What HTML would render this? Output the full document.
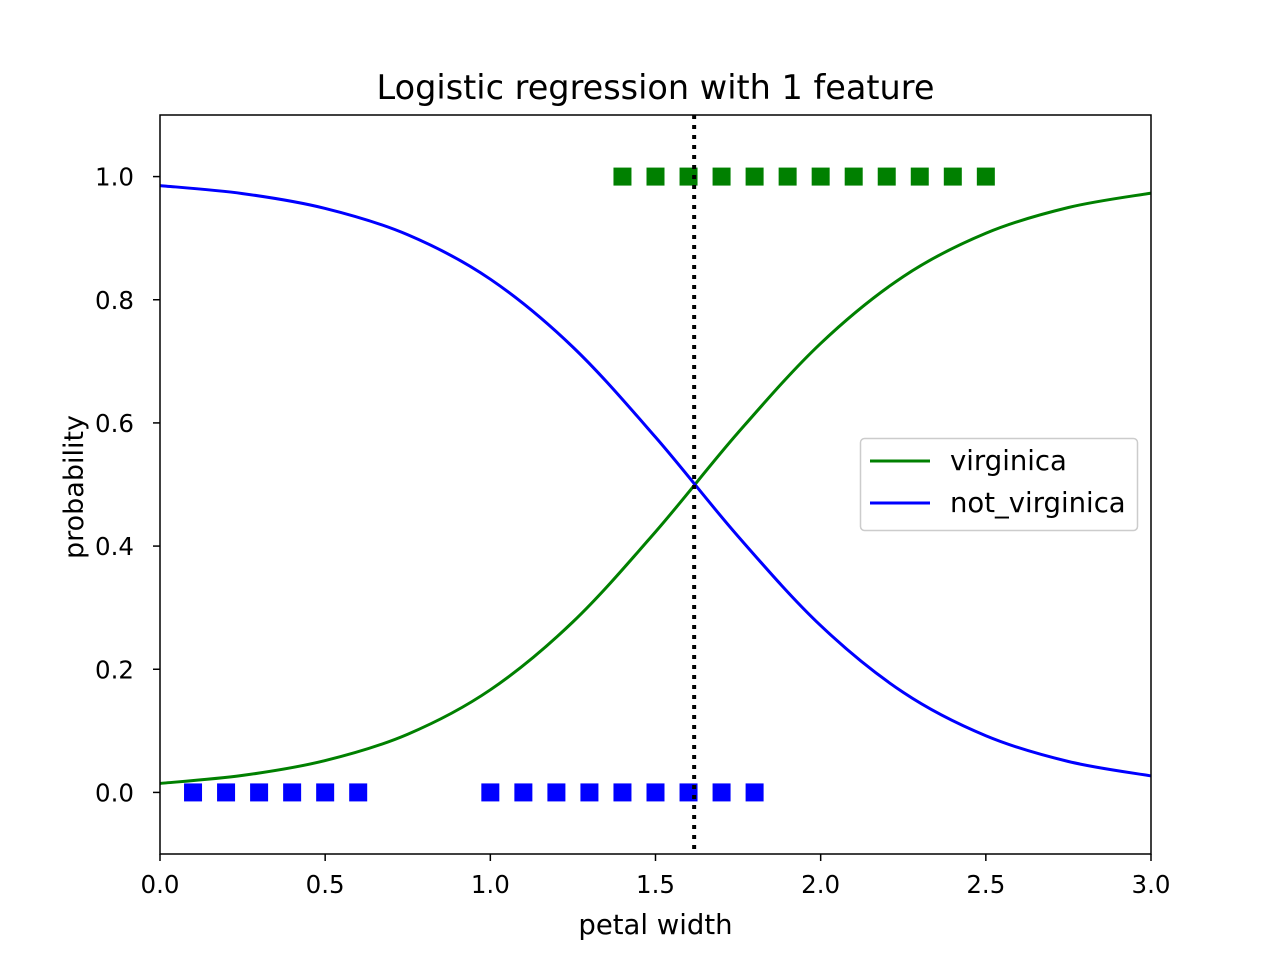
<!DOCTYPE html>
<html><head><meta charset="utf-8"><style>
body{margin:0;background:#fff;}
svg text{font-family:"DejaVu Sans","Liberation Sans",sans-serif;fill:#000;}
</style></head><body>
<svg id="chart" width="1280" height="960">
<rect width="1280" height="960" fill="#fff"/>
<text x="655.5" y="99" font-size="33.5" text-anchor="middle">Logistic regression with 1 feature</text>
<g id="plot"></g>
<text x="655.5" y="934" font-size="27.5" text-anchor="middle">petal width</text>
<text transform="translate(83,487) rotate(-90)" font-size="27" text-anchor="middle">probability</text>
<g>
<rect x="860.5" y="438.5" width="277" height="92" rx="4" fill="#fff" fill-opacity="0.8" stroke="#ccc" stroke-width="1.5"/>
<line x1="870" y1="461" x2="930" y2="461" stroke="#008000" stroke-width="3"/>
<text x="950" y="470" font-size="27.5">virginica</text>
<line x1="870" y1="503" x2="930" y2="503" stroke="#0000ff" stroke-width="3"/>
<text x="950" y="512" font-size="27.5">not_virginica</text>
</g>
</svg>
<script>
const curveX=[0,0.25,0.5,0.75,1.0,1.25,1.5,1.75,2.0,2.25,2.5,2.75,3.0];
const virginicaP=[0.0146,0.0276,0.0517,0.0945,0.1666,0.2769,0.4231,0.5842,0.7291,0.8376,0.9080,0.9498,0.9732];
const notVirginicaP=[0.9854,0.9724,0.9483,0.9055,0.8334,0.7231,0.5769,0.4158,0.2709,0.1624,0.0920,0.0502,0.0268];
const virginicaSamples=[1.4,1.5,1.6,1.7,1.8,1.9,2.0,2.1,2.2,2.3,2.4,2.5];
const notVirginicaSamples=[0.1,0.2,0.3,0.4,0.5,0.6,1.0,1.1,1.2,1.3,1.4,1.5,1.6,1.7,1.8];
const decisionBoundary=1.617;
const xTicks=[0,0.5,1.0,1.5,2.0,2.5,3.0];
const xTickLabels=["0.0","0.5","1.0","1.5","2.0","2.5","3.0"];
const yTicks=[0,0.2,0.4,0.6,0.8,1.0];
const yTickLabels=["0.0","0.2","0.4","0.6","0.8","1.0"];

const L=160,R=1151,T=115,B=854,xmin=0,xmax=3,ymin=-0.1,ymax=1.1;
const sx=v=>L+(v-xmin)/(xmax-xmin)*(R-L);
const sy=v=>B-(v-ymin)/(ymax-ymin)*(B-T);
const NS="http://www.w3.org/2000/svg";
const g=document.getElementById('plot');
function mk(tag,attrs){const e=document.createElementNS(NS,tag);for(const k in attrs)e.setAttribute(k,attrs[k]);g.appendChild(e);return e;}

function smoothPath(xs,ys){
  const p=xs.map((x,i)=>[sx(x),sy(ys[i])]);
  let d=`M${p[0][0]},${p[0][1]}`;
  for(let i=0;i<p.length-1;i++){
    const p0=p[i-1]||p[i],p1=p[i],p2=p[i+1],p3=p[i+2]||p[i+1];
    const c1=[p1[0]+(p2[0]-p0[0])/6,p1[1]+(p2[1]-p0[1])/6];
    const c2=[p2[0]-(p3[0]-p1[0])/6,p2[1]-(p3[1]-p1[1])/6];
    d+=` C${c1[0]},${c1[1]} ${c2[0]},${c2[1]} ${p2[0]},${p2[1]}`;
  }
  return d;
}
let e;
e=mk('path',{d:smoothPath(curveX,virginicaP),fill:'none',stroke:'#008000','stroke-width':3});


e=mk('path',{d:smoothPath(curveX,notVirginicaP),fill:'none',stroke:'#0000ff','stroke-width':3});


virginicaSamples.forEach(v=>{
  const m=mk('rect',{x:sx(v)-9,y:sy(1)-9,width:18,height:18,fill:'#008000'});
  
  
});
notVirginicaSamples.forEach(v=>{
  const m=mk('rect',{x:sx(v)-9,y:sy(0)-9,width:18,height:18,fill:'#0000ff'});
  
  
});
e=mk('line',{x1:sx(decisionBoundary),x2:sx(decisionBoundary),y1:T,y2:B,stroke:'#000','stroke-width':4,'stroke-dasharray':'4 6'});


e=mk('rect',{x:L,y:T,width:R-L,height:B-T,fill:'none',stroke:'#000','stroke-width':1.5});


xTicks.forEach((v,i)=>{
  const t=mk('line',{x1:sx(v),x2:sx(v),y1:B,y2:B+7,stroke:'#000','stroke-width':1.5});
  
  
  const l=mk('text',{x:sx(v),y:B+39,'font-size':24.5,'text-anchor':'middle'});
  l.textContent=xTickLabels[i];
  
  
});
yTicks.forEach((v,i)=>{
  const t=mk('line',{x1:L-7,x2:L,y1:sy(v),y2:sy(v),stroke:'#000','stroke-width':1.5});
  
  
  const l=mk('text',{x:L-26,y:sy(v)+9,'font-size':24.5,'text-anchor':'end'});
  l.textContent=yTickLabels[i];
  
  
});
</script>
</body></html>
